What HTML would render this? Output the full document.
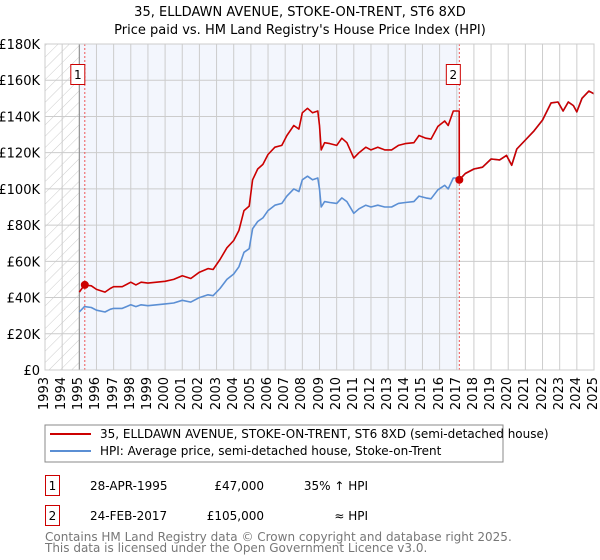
<!DOCTYPE html>
<html><head><meta charset="utf-8"><style>
body{margin:0;background:#fff;}
#wrap{position:relative;width:600px;height:560px;}
svg text{font-family:"DejaVu Sans","Liberation Sans",sans-serif;}
.xl{position:absolute;top:377px;width:16px;font:13px "DejaVu Sans","Liberation Sans",sans-serif;line-height:16px;writing-mode:vertical-rl;transform:rotate(180deg);white-space:nowrap;color:#000;}
</style></head><body>
<div id="wrap">
<svg id="chart" width="600" height="560" xmlns="http://www.w3.org/2000/svg" style="position:absolute;left:0;top:0">
<defs><pattern id="hatch" width="8" height="8" patternUnits="userSpaceOnUse" patternTransform="rotate(45)"><line x1="0" y1="0" x2="0" y2="8" stroke="#ccc" stroke-width="1"/></pattern></defs>
<text x="300" y="16" text-anchor="middle" font-size="13">35, ELLDAWN AVENUE, STOKE-ON-TRENT, ST6 8XD</text>
<text x="300" y="34" text-anchor="middle" font-size="13">Price paid vs. HM Land Registry's House Price Index (HPI)</text>
<g id="plot"></g>
<g id="legend">
<rect x="45" y="425" width="458" height="37" fill="#fff" stroke="#888"/>
<line x1="50" y1="434" x2="91" y2="434" stroke="#cc0000" stroke-width="2"/>
<text x="100" y="438" font-size="12">35, ELLDAWN AVENUE, STOKE-ON-TRENT, ST6 8XD (semi-detached house)</text>
<line x1="50" y1="451" x2="91" y2="451" stroke="#5b8fd4" stroke-width="2"/>
<text x="100" y="455" font-size="12">HPI: Average price, semi-detached house, Stoke-on-Trent</text>
</g>
<g>
<rect x="45.5" y="475.5" width="14" height="20" fill="#fff" stroke="#cc0000"/>
<text x="52.5" y="490" font-size="12" text-anchor="middle">1</text>
<text x="90" y="490" font-size="12">28-APR-1995</text>
<text x="264" y="490" font-size="12" text-anchor="end">£47,000</text>
<text x="368" y="490" font-size="12" text-anchor="end">35% ↑ HPI</text>
<rect x="45.5" y="505.5" width="14" height="20" fill="#fff" stroke="#cc0000"/>
<text x="52.5" y="520" font-size="12" text-anchor="middle">2</text>
<text x="90" y="520" font-size="12">24-FEB-2017</text>
<text x="264" y="520" font-size="12" text-anchor="end">£105,000</text>
<text x="368" y="520" font-size="12" text-anchor="end">≈ HPI</text>
</g>
<text x="45" y="541" font-size="12" fill="#777">Contains HM Land Registry data © Crown copyright and database right 2025.</text>
<text x="45" y="552" font-size="12" fill="#777">This data is licensed under the Open Government Licence v3.0.</text>
</svg>
</div>
<script>
const hpiDates=[1995.0,1995.3,1995.7,1996.0,1996.5,1996.8,1997.0,1997.5,1998.0,1998.3,1998.6,1999.0,1999.5,2000.0,2000.5,2001.0,2001.5,2002.0,2002.5,2002.8,2003.2,2003.6,2004.0,2004.3,2004.6,2004.9,2005.1,2005.4,2005.7,2006.0,2006.4,2006.8,2007.1,2007.5,2007.8,2008.0,2008.3,2008.6,2008.9,2009.0,2009.1,2009.3,2009.6,2010.0,2010.3,2010.6,2011.0,2011.3,2011.7,2012.0,2012.4,2012.8,2013.2,2013.6,2014.0,2014.5,2014.8,2015.2,2015.5,2015.9,2016.3,2016.5,2016.8,2017.0,2017.15,2017.5,2018.0,2018.5,2019.0,2019.5,2019.9,2020.2,2020.5,2021.0,2021.5,2022.0,2022.5,2022.9,2023.2,2023.5,2023.8,2024.0,2024.3,2024.7,2025.0];
const hpiValues=[32,35,34.5,33,32,33.5,34,34,36,35,36,35.5,36,36.5,37,38.5,37.5,40,41.5,41,45,50,53,57,65,67,78,82,84,88,91,92,96,100,98.5,105,107,105,106,100,90,93,92.5,92,95,93,86.5,89,91,90,91,90,90,92,92.5,93,96,95,94.5,99.5,102,100,106,106,105,108.5,111,112,116.5,116,118.5,113,122,127,132,138,147.5,148,143,148,146,142.5,150,154,152.5];
const priceDates=[1995.0,1995.3,1995.7,1996.0,1996.5,1996.8,1997.0,1997.5,1998.0,1998.3,1998.6,1999.0,1999.5,2000.0,2000.5,2001.0,2001.5,2002.0,2002.5,2002.8,2003.2,2003.6,2004.0,2004.3,2004.6,2004.9,2005.1,2005.4,2005.7,2006.0,2006.4,2006.8,2007.1,2007.5,2007.8,2008.0,2008.3,2008.6,2008.9,2009.0,2009.1,2009.3,2009.6,2010.0,2010.3,2010.6,2011.0,2011.3,2011.7,2012.0,2012.4,2012.8,2013.2,2013.6,2014.0,2014.5,2014.8,2015.2,2015.5,2015.9,2016.3,2016.5,2016.8,2017.0,2017.14,2017.15,2017.5,2018.0,2018.5,2019.0,2019.5,2019.9,2020.2,2020.5,2021.0,2021.5,2022.0,2022.5,2022.9,2023.2,2023.5,2023.8,2024.0,2024.3,2024.7,2025.0];
const priceValues=[43,47,46.5,44.5,43,45,46,46,48.5,47,48.5,48,48.5,49,50,52,50.5,54,56,55.5,61,67.5,71.5,77,88,90.5,105,111,113.5,119,123,124,129.5,135,133,142,144.5,142,143,135,121.5,125.5,125,124,128,125.5,117,120,123,121.5,123,121.5,121.5,124,125,125.5,129.5,128,127.5,134.5,137.5,135,143,143,143,105,108.5,111,112,116.5,116,118.5,113,122,127,132,138,147.5,148,143,148,146,142.5,150,154,152.5];
const saleDates=[1995.32,2017.15];
const saleValues=[47,105];
const saleLabels=["1","2"];
const yTicks=[0,20,40,60,80,100,120,140,160,180];
const yTickLabels=["£0","£20K","£40K","£60K","£80K","£100K","£120K","£140K","£160K","£180K"];
const xTicks=[1993,1994,1995,1996,1997,1998,1999,2000,2001,2002,2003,2004,2005,2006,2007,2008,2009,2010,2011,2012,2013,2014,2015,2016,2017,2018,2019,2020,2021,2022,2023,2024,2025];

const L=45,R=594,T=44,B=370;
const xs=d=>L+(d-1993)/(2025-1993)*(R-L);
const ys=v=>B-v/180*(B-T);
const NS="http://www.w3.org/2000/svg";
const g=document.getElementById('plot');
const wrap=document.getElementById('wrap');
function mk(tag,attrs){const e=document.createElementNS(NS,tag);for(const k in attrs)e.setAttribute(k,attrs[k]);g.appendChild(e);return e;}

let e=mk('rect',{x:L,y:T,width:R-L,height:B-T,fill:'#fff'});


e=mk('rect',{x:xs(1995),y:T,width:xs(saleDates[1])-xs(1995),height:B-T,fill:'#f3f6fd'});


e=mk('rect',{x:L,y:T,width:xs(1995)-L,height:B-T,fill:'url(#hatch)'});



yTicks.forEach((v,i)=>{
  let l=mk('line',{x1:L,x2:R,y1:ys(v),y2:ys(v),stroke:'#ccc','stroke-width':1});
  
  
  let t=mk('text',{x:L-5,y:ys(v)+5,'text-anchor':'end','font-size':13});
  t.textContent=yTickLabels[i];
  
  
});
xTicks.forEach(d=>{
  let l=mk('line',{x1:xs(d),x2:xs(d),y1:T,y2:B,stroke:'#ccc','stroke-width':1});
  
  
  let t=document.createElement('div');
  t.className='xl';
  t.style.left=(xs(d)-8)+'px';
  t.textContent=d;
  
  
  wrap.appendChild(t);
});
e=mk('line',{x1:xs(1995),x2:xs(1995),y1:T,y2:B,stroke:'#888','stroke-width':1});



saleDates.forEach((d,i)=>{
  let l=mk('line',{x1:xs(d),x2:xs(d),y1:T,y2:B,stroke:'#ee5555','stroke-width':1,'stroke-dasharray':'2,2'});
  
  
});

function path(dates,vals,color,name){
  const p=mk('path',{d:dates.map((d,i)=>(i?'L':'M')+xs(d).toFixed(1)+','+ys(vals[i]).toFixed(1)).join(''),fill:'none',stroke:color,'stroke-width':1.6,'stroke-linejoin':'round'});
  
  
}
path(hpiDates,hpiValues,'#5b8fd4','hpi-line');
path(priceDates,priceValues,'#cc0000','price-line');

saleDates.forEach((d,i)=>{
  let c=mk('circle',{cx:xs(d),cy:ys(saleValues[i]),r:4,fill:'#cc0000'});
  
  
  let bx=xs(d)-9-(i?4:5);
  let r=mk('rect',{x:bx,y:64.5,width:14,height:20,fill:'#fff',stroke:'#cc0000'});
  
  
  let t=mk('text',{x:bx+7,y:79,'text-anchor':'middle','font-size':12});
  t.textContent=saleLabels[i];
  
  
});
e=mk('rect',{x:L,y:T,width:R-L,height:B-T,fill:'none',stroke:'#ccc'});


</script>
</body></html>
